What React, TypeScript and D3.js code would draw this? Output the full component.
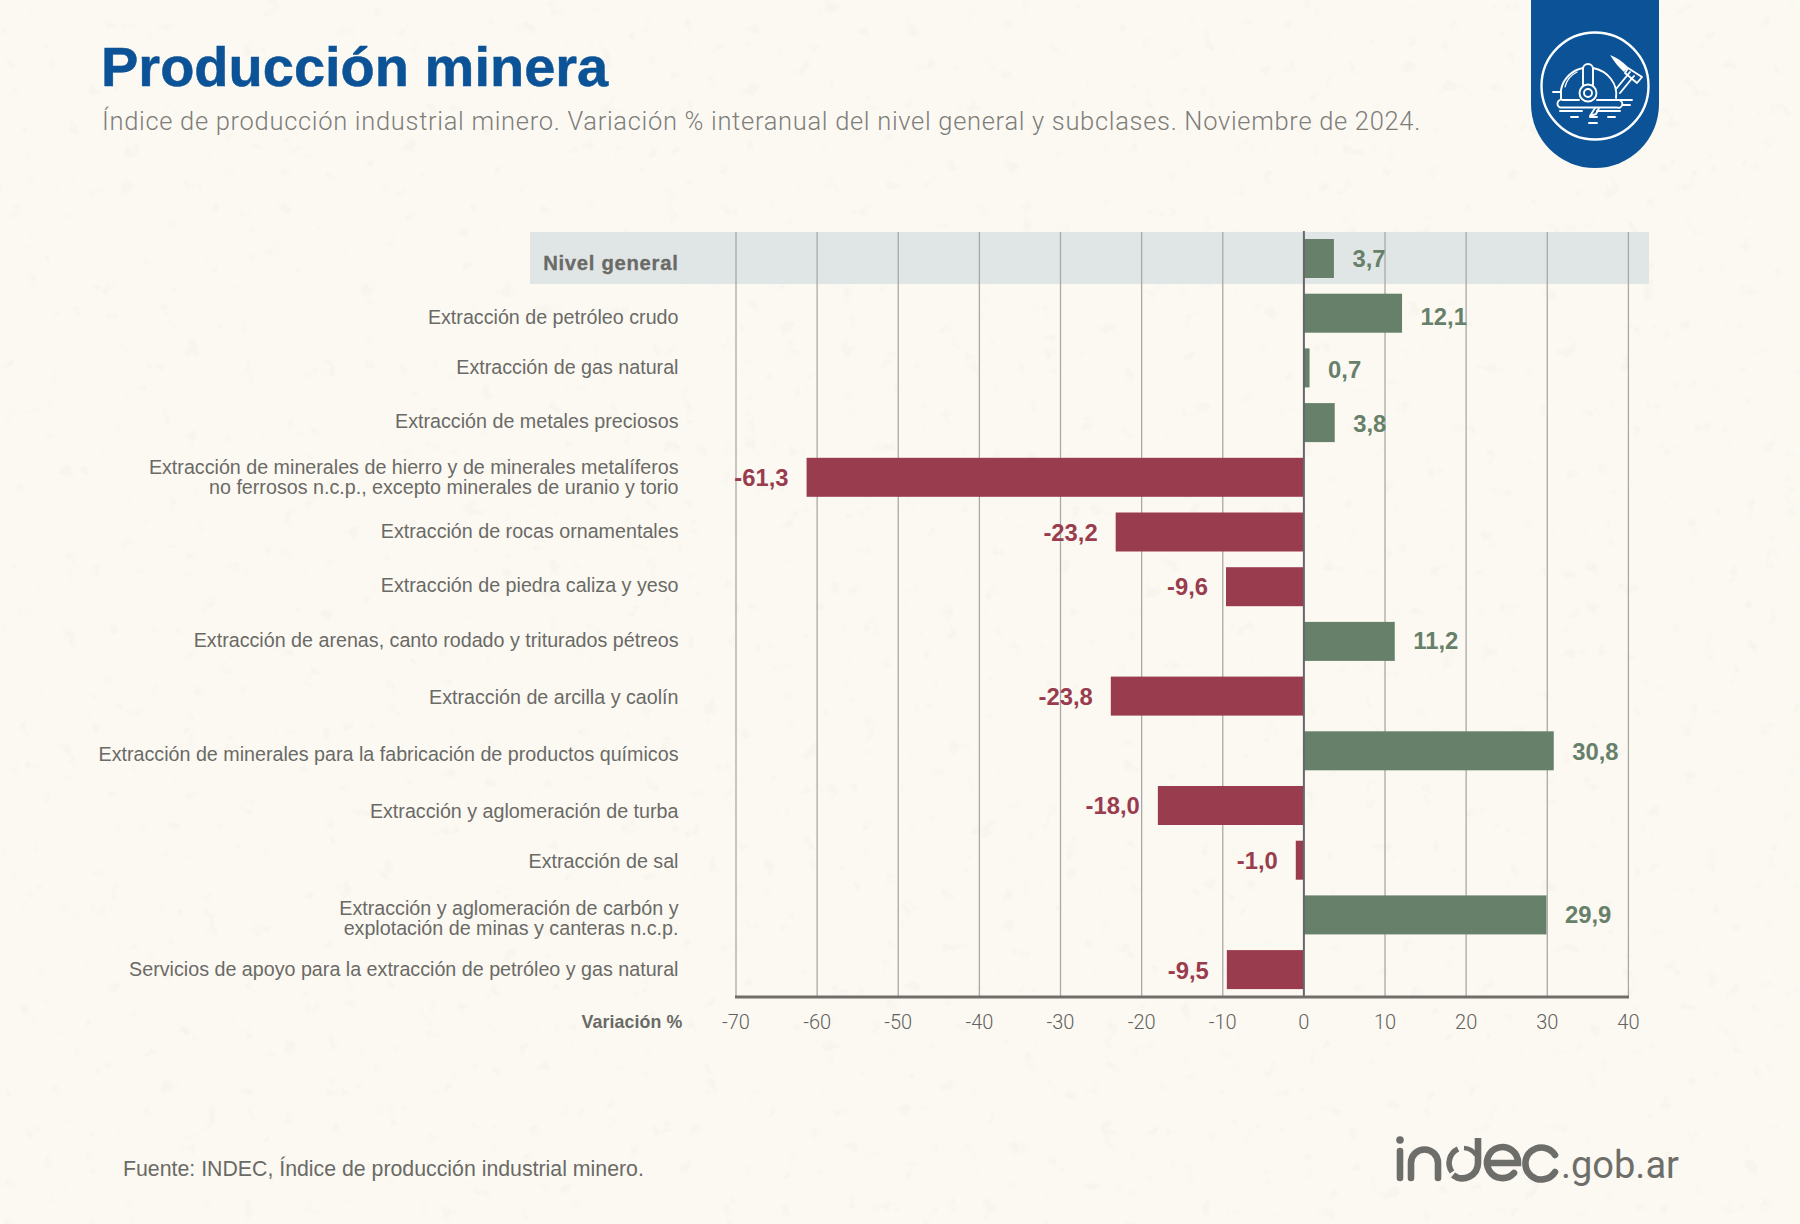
import React from "react";
import * as d3 from "d3";

const categories = [
  ["Nivel general"],
  ["Extracción de petróleo crudo"],
  ["Extracción de gas natural"],
  ["Extracción de metales preciosos"],
  ["Extracción de minerales de hierro y de minerales metalíferos", "no ferrosos n.c.p., excepto minerales de uranio y torio"],
  ["Extracción de rocas ornamentales"],
  ["Extracción de piedra caliza y yeso"],
  ["Extracción de arenas, canto rodado y triturados pétreos"],
  ["Extracción de arcilla y caolín"],
  ["Extracción de minerales para la fabricación de productos químicos"],
  ["Extracción y aglomeración de turba"],
  ["Extracción de sal"],
  ["Extracción y aglomeración de carbón y", "explotación de minas y canteras n.c.p."],
  ["Servicios de apoyo para la extracción de petróleo y gas natural"],
];
const values = [3.7, 12.1, 0.7, 3.8, -61.3, -23.2, -9.6, 11.2, -23.8, 30.8, -18.0, -1.0, 29.9, -9.5];
const ticks = [-70, -60, -50, -40, -30, -20, -10, 0, 10, 20, 30, 40];

const labelCenters = [263, 317, 367, 421, 477, 531, 585, 640, 697, 754, 811, 861, 918, 969];
const valueCenters = [259, 317, 370, 424, 478, 533, 587, 641, 697, 752, 806, 861, 915, 971];

const FONT = '"Liberation Sans", Arial, sans-serif';
const LIGHT = 'Roboto, "Liberation Sans", sans-serif';
const GREEN = "#67806a";
const RED = "#993d4e";
const GREY = "#6a6a66";
const LOGO = "#6d6d6a";

export default function App() {
  const x = d3.scaleLinear().domain([-70, 40]).range([736, 1628.4]);
  const y = d3.scaleBand<number>().domain(d3.range(values.length)).range([239, 989.1]).paddingInner(0.287).paddingOuter(0);
  const fmt = (v: number) => v.toFixed(1).replace(".", ",");
  return (
    <svg width={1800} height={1224} style={{ position: "absolute", left: 0, top: 0, background: "#fcf9f3" }} fontFamily={FONT}>
      <defs>
        <filter id="speck" x="0" y="0" width="100%" height="100%">
          <feTurbulence type="fractalNoise" baseFrequency="0.05" numOctaves={3} seed={7} />
          <feColorMatrix type="matrix" values="0 0 0 0 0.87  0 0 0 0 0.85  0 0 0 0 0.80  0 0 0 9 -6.1" />
        </filter>
      </defs>
      <rect width={1800} height={1224} fill="#fcf9f3" />
      <rect width={1800} height={1224} filter="url(#speck)" opacity={0.25} />
      <text x={101} y={86} fontSize={56} fontWeight={700} fill="#0b5296" stroke="#0b5296" strokeWidth={0.5}>Producción minera</text>
      <text x={102} y={130} fontSize={25.5} fontFamily={LIGHT} fontWeight={300} fill="#7e7e7a" letterSpacing={0.69}>Índice de producción industrial minero. Variación % interanual del nivel general y subclases. Noviembre de 2024.</text>

      <rect x={530} y={232} width={1119} height={52} fill="#e0e6e6" />
      {ticks.filter((t) => t !== 0).map((t) => (
        <line key={t} x1={x(t)} x2={x(t)} y1={232} y2={997} stroke="#aaa9a3" strokeWidth={1.3} />
      ))}
      {values.map((v, i) => (
        <rect key={i} x={Math.min(x(0), x(v))} y={y(i)} width={Math.abs(x(v) - x(0))} height={y.bandwidth()} fill={v >= 0 ? GREEN : RED} />
      ))}
      <line x1={x(0)} x2={x(0)} y1={231} y2={997} stroke="#66666a" strokeWidth={2} />
      <line x1={735} x2={1629} y1={997} y2={997} stroke="#716e6a" strokeWidth={3} />

      {categories.map((lines, i) => (
        <text key={i} textAnchor="end" fill={GREY} fontSize={i === 0 ? 20.3 : 19.7} fontWeight={i === 0 ? 700 : 400} letterSpacing={i === 0 ? 0.7 : 0} stroke={i === 0 ? GREY : "none"} strokeWidth={i === 0 ? 0.3 : 0}>
          {lines.map((l, j) => (
            <tspan key={j} x={678.5} y={labelCenters[i] + 6.5 + (j - (lines.length - 1) / 2) * 20}>{l}</tspan>
          ))}
        </text>
      ))}
      {values.map((v, i) => (
        <text key={i} x={v >= 0 ? x(v) + 18.5 : x(v) - 18} y={valueCenters[i] + 8} textAnchor={v >= 0 ? "start" : "end"} fontSize={23.8} fontWeight={700} fill={v >= 0 ? GREEN : RED}>{fmt(v)}</text>
      ))}
      <text x={682.5} y={1028} textAnchor="end" fontSize={17.8} fontWeight={700} fill={GREY} letterSpacing={0.1}>Variación %</text>
      {ticks.map((t) => (
        <text key={t} x={x(t)} y={1029} textAnchor="middle" fontSize={20} fontFamily={LIGHT} fontWeight={300} fill="#62625e">{t}</text>
      ))}
      <text x={123} y={1176} fontSize={21.3} fill={GREY}>Fuente: INDEC, Índice de producción industrial minero.</text>

      {/* badge */}
      <path d="M1531 0H1659V104A64 64 0 0 1 1531 104Z" fill="#0b5296" />
      <g fill="none" stroke="#fff" strokeWidth={1.9} strokeLinecap="round" strokeLinejoin="round">
        <circle cx={1595} cy={86} r={53.5} strokeWidth={2.4} />
        <path d="M1561 99V90A28 27 0 0 1 1583 68" />
        <path d="M1593 68A29 27 0 0 1 1616 98" />
        <path d="M1565 87A22 22 0 0 1 1577 72" strokeWidth={1.2} />
        <path d="M1583 85V69A5 5 0 0 1 1593 69V85" />
        <circle cx={1588} cy={93} r={8.5} />
        <circle cx={1588} cy={93} r={4} />
        <path d="M1579 100H1563A3.5 3.5 0 0 0 1560 107.5H1617A2 2 0 0 0 1620 100.5" />
        <path d="M1597 100H1632" />
        <path d="M1553 92H1560M1623 105H1630M1560 111H1582M1597 111H1620M1571 117H1578M1590 117H1597M1608 117H1615M1589 123H1597" />
        <path d="M1595 108L1590 116L1596 114L1599 108" />
        <path d="M1616 89L1630 72M1620 93L1634 76" />
        <path d="M1628 68L1642 77L1637 83L1625 73Z" />
        <path d="M1628 67C1622 61 1616 57 1610 55C1614 61 1618 67 1624 72Z" fill="#fff" stroke="none" />
      </g>

      {/* indec logo */}
      <g fill="none" stroke={LOGO} strokeWidth={6.6} strokeLinecap="round">
        <circle cx={1400} cy={1140} r={3.8} fill={LOGO} stroke="none" />
        <path d="M1400 1151V1178" />
        <path d="M1411 1178V1163A13.5 13.5 0 0 1 1438 1163V1178" />
        <path d="M1478 1138V1163A15.5 15.5 0 0 1 1453 1175" strokeLinecap="butt" />
        <path d="M1452 1172A15.5 15.5 0 0 1 1458 1149" strokeWidth={5.6} strokeLinecap="butt" />
        <path d="M1464 1148A15.5 15.5 0 0 1 1476 1155" strokeWidth={4.5} strokeLinecap="butt" />
        <path d="M1489 1163H1518A15.5 15.5 0 1 0 1514 1173" />
        <path d="M1555 1155A16 16 0 1 0 1555 1172" />
      </g>
      <text x={1561} y={1178} fontSize={38} fill={LOGO} fontFamily={LIGHT} fontWeight={400}>.gob.ar</text>
    </svg>
  );
}
